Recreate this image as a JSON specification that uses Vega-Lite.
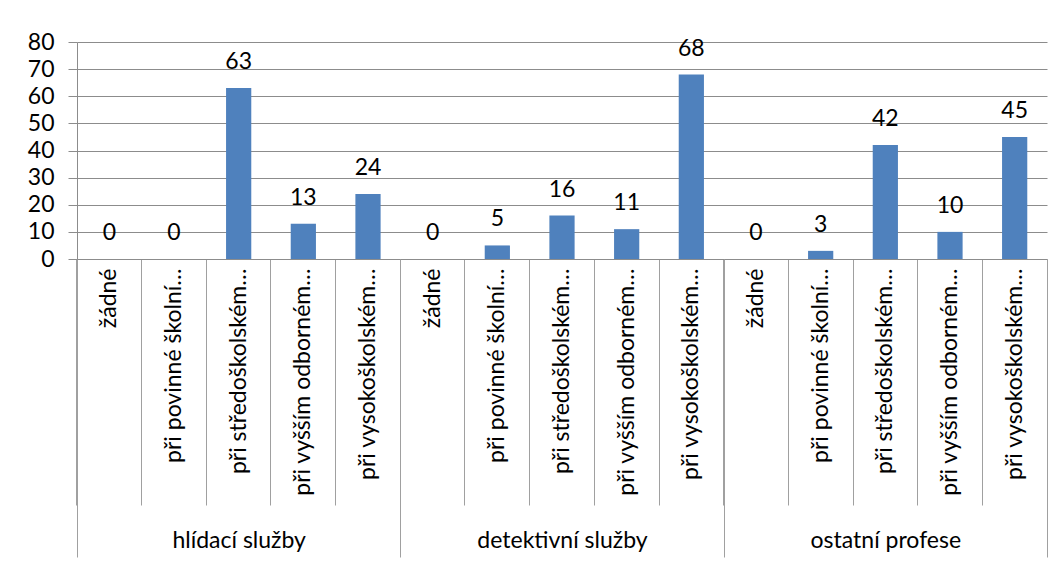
{
  "$schema": "https://vega.github.io/schema/vega-lite/v6.json",
  "width": 970,
  "height": 217,
  "autosize": {"type": "none"},
  "padding": {"left": 77, "top": 42, "right": 16, "bottom": 306},
  "background": "white",
  "config": {"view": {"stroke": null}, "font": "Lato", "text": {"font": "Lato"}},
  "data": {
    "values": [
      {"group": "hlídací služby", "key": "hlídací služby|žádné", "value": 0},
      {"group": "hlídací služby", "key": "hlídací služby|při povinné školní…", "value": 0},
      {"group": "hlídací služby", "key": "hlídací služby|při středoškolském…", "value": 63},
      {"group": "hlídací služby", "key": "hlídací služby|při vyšším odborném…", "value": 13},
      {"group": "hlídací služby", "key": "hlídací služby|při vysokoškolském…", "value": 24},
      {"group": "detektivní služby", "key": "detektivní služby|žádné", "value": 0},
      {"group": "detektivní služby", "key": "detektivní služby|při povinné školní…", "value": 5},
      {"group": "detektivní služby", "key": "detektivní služby|při středoškolském…", "value": 16},
      {"group": "detektivní služby", "key": "detektivní služby|při vyšším odborném…", "value": 11},
      {"group": "detektivní služby", "key": "detektivní služby|při vysokoškolském…", "value": 68},
      {"group": "ostatní profese", "key": "ostatní profese|žádné", "value": 0},
      {"group": "ostatní profese", "key": "ostatní profese|při povinné školní…", "value": 3},
      {"group": "ostatní profese", "key": "ostatní profese|při středoškolském…", "value": 42},
      {"group": "ostatní profese", "key": "ostatní profese|při vyšším odborném…", "value": 10},
      {"group": "ostatní profese", "key": "ostatní profese|při vysokoškolském…", "value": 45}
    ]
  },
  "layer": [
    {
      "encoding": {
        "x": {
          "field": "key", "type": "nominal", "sort": null,
          "scale": {"paddingInner": 0, "paddingOuter": 0},
          "axis": {
            "title": null, "orient": "bottom",
            "labelExpr": "split(datum.value, '|')[1]",
            "labelAngle": -90, "labelFontSize": 23, "labelColor": "#000000",
            "labelPadding": -237, "labelLimit": 0,
            "tickSize": 246, "tickColor": "#A0A0A0", "bandPosition": 0,
            "domainColor": "#8C8C8C", "grid": false
          }
        },
        "y": {
          "field": "value", "type": "quantitative",
          "scale": {"domain": [0, 80]},
          "axis": {
            "title": null, "values": [0, 10, 20, 30, 40, 50, 60, 70, 80],
            "labelOverlap": false,
            "grid": true, "gridColor": "#8C8C8C", "tickColor": "#8C8C8C",
            "tickSize": 9, "labelPadding": 14, "labelFontSize": 23,
            "labelColor": "#000000", "domainColor": "#8C8C8C"
          }
        }
      },
      "layer": [
        {"mark": {"type": "bar", "color": "#4F81BD", "width": {"band": 0.39}}},
        {
          "mark": {"type": "text", "baseline": "alphabetic", "dy": -19, "fontSize": 23, "color": "#000000"},
          "encoding": {"text": {"field": "value", "type": "quantitative"}}
        }
      ]
    },
    {
      "mark": {"type": "text", "opacity": 0},
      "encoding": {
        "x": {
          "field": "group", "type": "nominal", "sort": null,
          "scale": {"paddingInner": 0, "paddingOuter": 0},
          "axis": {
            "title": null, "orient": "bottom", "domain": false,
            "tickBand": "extent", "tickSize": 298, "tickColor": "#A0A0A0",
            "labelPadding": -28, "labelAngle": 0, "labelFontSize": 23, "labelColor": "#000000"
          }
        },
        "text": {"value": ""}
      }
    }
  ],
  "resolve": {"scale": {"x": "independent"}, "axis": {"x": "independent"}}
}
